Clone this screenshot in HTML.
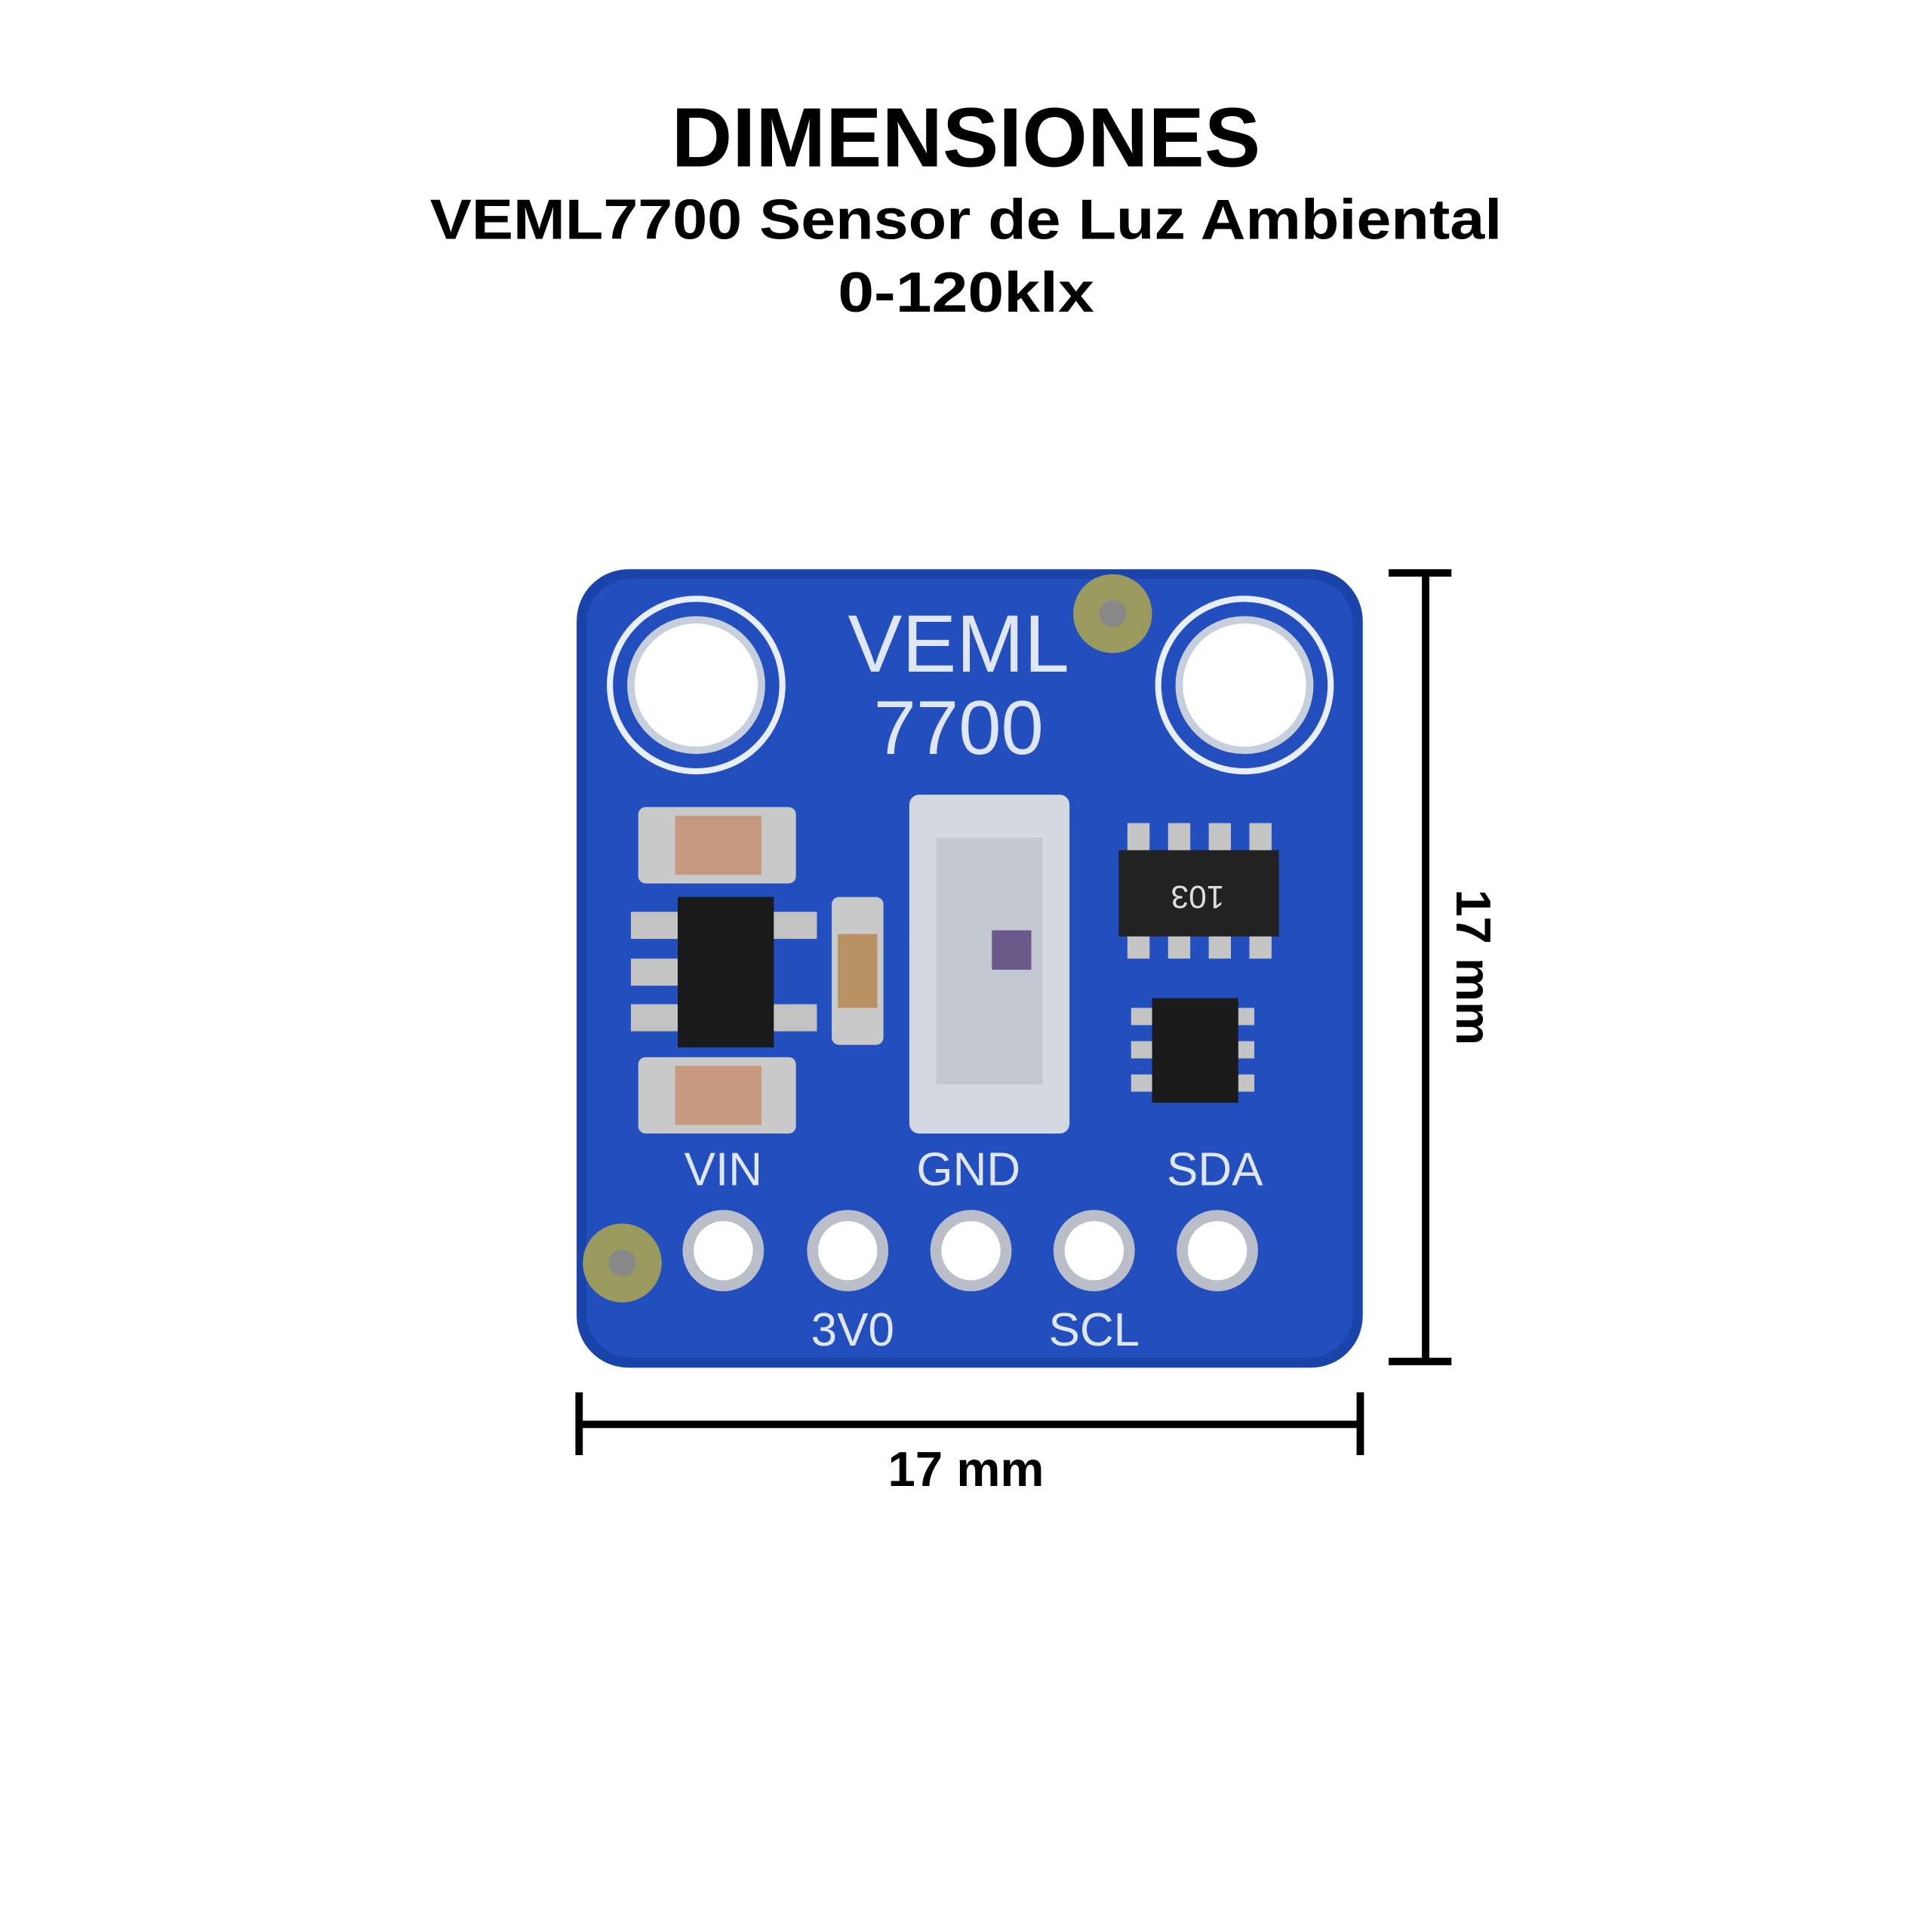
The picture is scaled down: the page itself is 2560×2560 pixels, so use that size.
<!DOCTYPE html>
<html><head><meta charset="utf-8"><style>
html,body{margin:0;padding:0;background:#fff}
svg{display:block}
</style></head><body>
<svg width="2560" height="2560" viewBox="0 0 1568 1568" xmlns="http://www.w3.org/2000/svg" font-family="Liberation Sans, sans-serif">
<rect width="1568" height="1568" fill="#fff"/>
<text x="784" y="135" text-anchor="middle" font-size="68" font-weight="bold" fill="#000" textLength="478" lengthAdjust="spacingAndGlyphs">DIMENSIONES</text>
<text x="784" y="194" text-anchor="middle" font-size="46" font-weight="bold" fill="#000" textLength="870" lengthAdjust="spacingAndGlyphs">VEML7700 Sensor de Luz Ambiental</text>
<text x="784" y="253" text-anchor="middle" font-size="46" font-weight="bold" fill="#000" textLength="208" lengthAdjust="spacingAndGlyphs">0-120klx</text>

<!-- board -->
<rect x="468" y="462" width="638" height="648" rx="42" fill="#1a44aa"/>
<rect x="476" y="470" width="622" height="632" rx="36" fill="#224fbd"/>
<!-- mounting holes -->
<circle cx="565" cy="556" r="70" fill="none" stroke="#e8eefc" stroke-width="5"/>
<circle cx="565" cy="556" r="56" fill="#c7cfdc"/><circle cx="565" cy="556" r="50" fill="#fff"/>
<circle cx="1010" cy="556" r="70" fill="none" stroke="#e8eefc" stroke-width="5"/>
<circle cx="1010" cy="556" r="56" fill="#c7cfdc"/><circle cx="1010" cy="556" r="50" fill="#fff"/>
<!-- gold fiducials -->
<circle cx="903" cy="498" r="32" fill="#9a9a5e"/><circle cx="903" cy="498" r="11" fill="#888"/>
<circle cx="505" cy="1025" r="32" fill="#9a9a5e"/><circle cx="505" cy="1025" r="11" fill="#888"/>
<!-- VEML text -->
<text x="778" y="545" text-anchor="middle" font-size="66" fill="#dfe6f5">VEML</text>
<text x="778" y="612" text-anchor="middle" font-size="62" fill="#dfe6f5">7700</text>
<!-- left components -->
<rect x="518" y="655" width="128" height="62" rx="6" fill="#c9c9c9"/>
<rect x="548" y="662" width="70" height="48" fill="#c79a80"/>
<rect x="518" y="858" width="128" height="62" rx="6" fill="#c9c9c9"/>
<rect x="548" y="865" width="70" height="48" fill="#c79a80"/>
<g fill="#c2c2c2">
<rect x="512" y="740" width="45" height="22"/><rect x="512" y="778" width="45" height="22"/><rect x="512" y="815" width="45" height="22"/>
<rect x="618" y="740" width="45" height="22"/><rect x="618" y="815" width="45" height="22"/>
</g>
<rect x="550" y="728" width="78" height="122" fill="#1a1a1a"/>
<rect x="675" y="728" width="42" height="120" rx="6" fill="#c9c9c9"/>
<rect x="680" y="758" width="32" height="60" fill="#b89264"/>
<!-- sensor -->
<rect x="738" y="645" width="130" height="275" rx="8" fill="#d4d8e2"/>
<rect x="760" y="680" width="86" height="200" fill="#c2c7d2"/>
<rect x="805" y="755" width="32" height="32" fill="#6a5a8a"/>
<!-- resistor array -->
<g fill="#c4c4c4">
<rect x="915" y="668" width="18" height="110"/><rect x="948" y="668" width="18" height="110"/><rect x="981" y="668" width="18" height="110"/><rect x="1014" y="668" width="18" height="110"/>
</g>
<rect x="908" y="690" width="130" height="70" fill="#222"/>
<text x="972" y="735" text-anchor="middle" font-size="26" fill="#ddd" transform="rotate(180 972 727)">103</text>
<!-- small IC -->
<g fill="#c4c4c4"><rect x="918" y="818" width="100" height="14"/><rect x="918" y="845" width="100" height="14"/><rect x="918" y="872" width="100" height="14"/></g>
<rect x="935" y="810" width="70" height="85" fill="#1c1c1c"/>
<!-- pin labels -->
<g font-size="38" fill="#dfe6f5" text-anchor="middle">
<text x="587" y="962">VIN</text><text x="786" y="962">GND</text><text x="986" y="962">SDA</text>
<text x="692" y="1092">3V0</text><text x="888" y="1092">SCL</text>
</g>
<!-- pins -->
<g>
<circle cx="587" cy="1015" r="33" fill="#b9bec8"/><circle cx="587" cy="1015" r="24" fill="#fff"/>
<circle cx="688" cy="1015" r="33" fill="#b9bec8"/><circle cx="688" cy="1015" r="24" fill="#fff"/>
<circle cx="788" cy="1015" r="33" fill="#b9bec8"/><circle cx="788" cy="1015" r="24" fill="#fff"/>
<circle cx="888" cy="1015" r="33" fill="#b9bec8"/><circle cx="888" cy="1015" r="24" fill="#fff"/>
<circle cx="988" cy="1015" r="33" fill="#b9bec8"/><circle cx="988" cy="1015" r="24" fill="#fff"/>
</g>

<!-- dimensions -->
<g stroke="#000" stroke-width="6" fill="none">
<line x1="1157" y1="465" x2="1157" y2="1105"/>
<line x1="1127" y1="465" x2="1178" y2="465"/>
<line x1="1127" y1="1105" x2="1178" y2="1105"/>
<line x1="470" y1="1156" x2="1104" y2="1156"/>
<line x1="470" y1="1130" x2="470" y2="1181"/>
<line x1="1104" y1="1130" x2="1104" y2="1181"/>
</g>
<text x="784" y="1206" text-anchor="middle" font-size="40" font-weight="bold" fill="#000">17 mm</text>
<text x="0" y="0" text-anchor="middle" font-size="40" font-weight="bold" fill="#000" transform="translate(1182 785) rotate(90)">17 mm</text>
</svg>
</body></html>
